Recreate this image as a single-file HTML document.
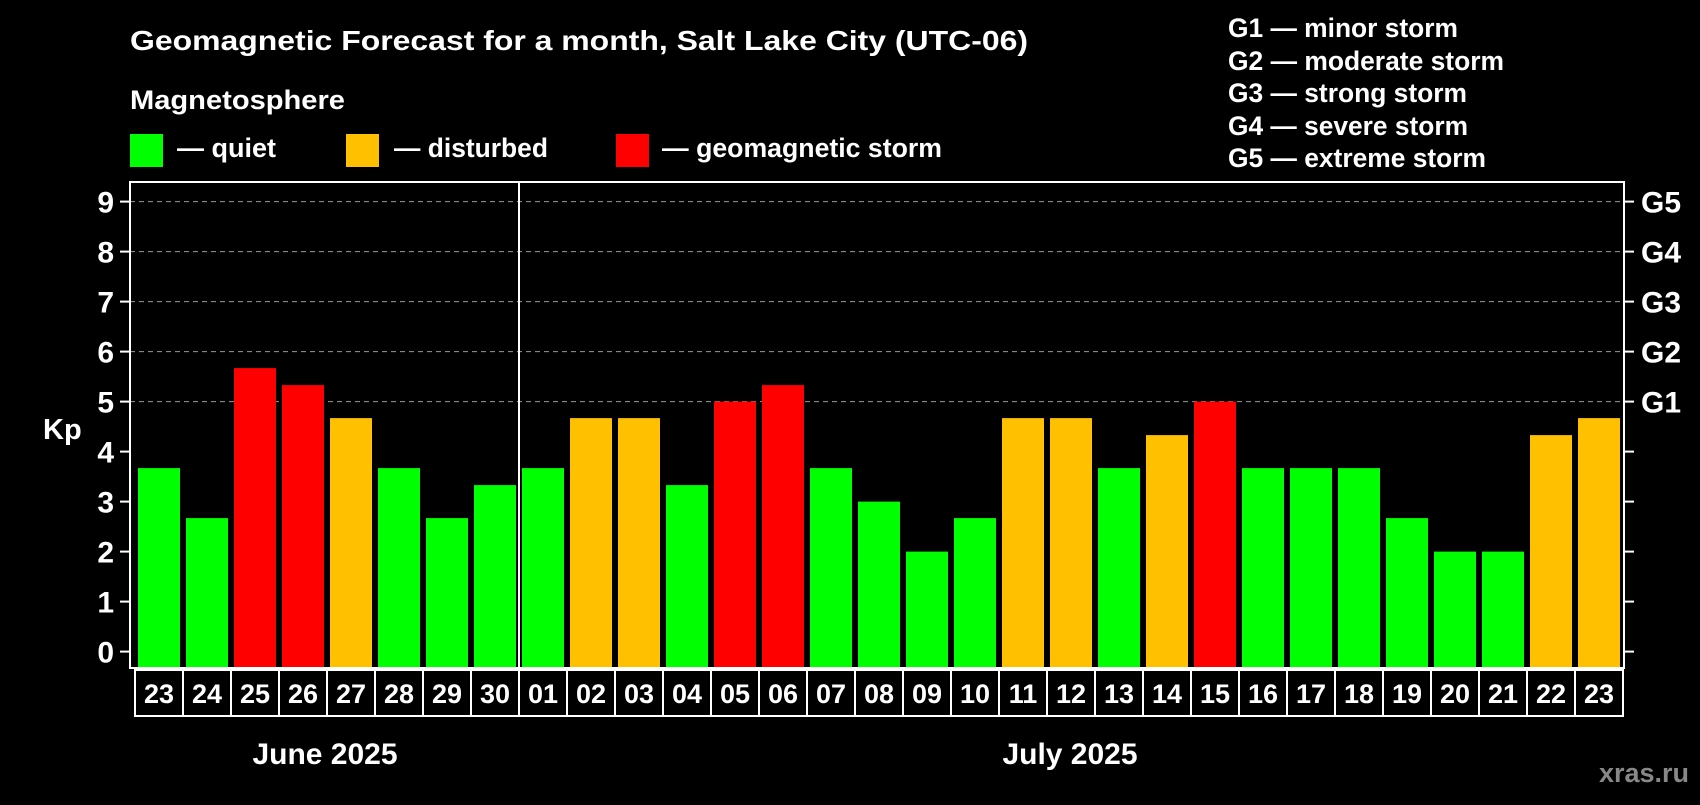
<!DOCTYPE html>
<html><head><meta charset="utf-8"><style>
body{margin:0;background:#000;width:1700px;height:800px;overflow:hidden;font-family:"Liberation Sans",sans-serif;}
svg text{font-family:"Liberation Sans",sans-serif;font-weight:bold;fill:#fff;}
</style></head><body>
<svg id="c" width="1700" height="800">
<text x="130" y="50" font-size="28" textLength="898" lengthAdjust="spacingAndGlyphs">Geomagnetic Forecast for a month, Salt Lake City (UTC-06)</text>
<text x="130" y="109" font-size="27" textLength="215" lengthAdjust="spacingAndGlyphs">Magnetosphere</text>
<rect x="130" y="134" width="33" height="33" fill="#00ff00"/>
<text x="177" y="157" font-size="27" textLength="99" lengthAdjust="spacingAndGlyphs">— quiet</text>
<rect x="346" y="134" width="33" height="33" fill="#ffc000"/>
<text x="394" y="157" font-size="27" textLength="154" lengthAdjust="spacingAndGlyphs">— disturbed</text>
<rect x="616" y="134" width="33" height="33" fill="#ff0000"/>
<text x="662" y="157" font-size="27" textLength="280" lengthAdjust="spacingAndGlyphs">— geomagnetic storm</text>
<g font-size="27">
<text x="1228" y="37" textLength="230" lengthAdjust="spacingAndGlyphs">G1 — minor storm</text>
<text x="1228" y="70" textLength="276" lengthAdjust="spacingAndGlyphs">G2 — moderate storm</text>
<text x="1228" y="102" textLength="239" lengthAdjust="spacingAndGlyphs">G3 — strong storm</text>
<text x="1228" y="135" textLength="240" lengthAdjust="spacingAndGlyphs">G4 — severe storm</text>
<text x="1228" y="167" textLength="258" lengthAdjust="spacingAndGlyphs">G5 — extreme storm</text>
</g>
<text x="43" y="439" font-size="29">Kp</text>
<text x="325" y="764" font-size="30" text-anchor="middle">June 2025</text>
<text x="1070" y="764" font-size="30" text-anchor="middle">July 2025</text>
<text x="1689" y="782" font-size="27" text-anchor="end" style="fill:#888">xras.ru</text>
<g id="plot"></g>
</svg>
<script>
const days=["23","24","25","26","27","28","29","30","01","02","03","04","05","06","07","08","09","10","11","12","13","14","15","16","17","18","19","20","21","22","23"];
const kp=[3.67,2.67,5.67,5.33,4.67,3.67,2.67,3.33,3.67,4.67,4.67,3.33,5,5.33,3.67,3,2,2.67,4.67,4.67,3.67,4.33,5,3.67,3.67,3.67,2.67,2,2,4.33,4.67];
const yTicks=[0,1,2,3,4,5,6,7,8,9];
const gLabels=["G1","G2","G3","G4","G5"];
const NS="http://www.w3.org/2000/svg";
const g=document.getElementById('plot');
const L=130,R=1624,T=182,B=668,Y0=651.6,U=50,X0=138,P=48,BW=42;
const y=v=>Y0-v*U;
const x=i=>X0+i*P;
function mk(t,a){const e=document.createElementNS(NS,t);for(const k in a)e.setAttribute(k,a[k]);g.appendChild(e);return e;}
yTicks.forEach(v=>{
 if(v>=5){const l=mk('line',{x1:L,x2:R,y1:y(v),y2:y(v),stroke:'#999','stroke-dasharray':'5,4','stroke-width':1});
 
 }
 const t1=mk('line',{x1:L-10,x2:L,y1:y(v),y2:y(v),stroke:'#fff','stroke-width':2});
 
 
 const t2=mk('line',{x1:R,x2:R+10,y1:y(v),y2:y(v),stroke:'#fff','stroke-width':2});
 
 
 const tx=mk('text',{x:L-16,y:y(v)+11,'font-size':30,'text-anchor':'end'});tx.textContent=v;
 
 
});
gLabels.forEach((s,i)=>{const tx=mk('text',{x:R+17,y:y(5+i)+11,'font-size':30});tx.textContent=s;
 
 });
kp.forEach((v,i)=>{
 const c=v>=5?'#ff0000':(v>=4?'#ffc000':'#00ff00');
 const r=mk('rect',{x:x(i),y:y(v),width:BW,height:B-y(v),fill:c});
 
 
 const bx=mk('rect',{x:x(i)-3,y:B+2,width:P,height:46,fill:'none',stroke:'#fff','stroke-width':2});
 
 
 const tx=mk('text',{x:x(i)+BW/2,y:B+35,'font-size':27,'text-anchor':'middle'});tx.textContent=days[i];
 
 
});
const fr=mk('rect',{x:L,y:T,width:R-L,height:B-T,fill:'none',stroke:'#fff','stroke-width':2});


const sep=mk('line',{x1:x(8)-3,x2:x(8)-3,y1:T,y2:B,stroke:'#fff','stroke-width':2});


</script>
</body></html>
